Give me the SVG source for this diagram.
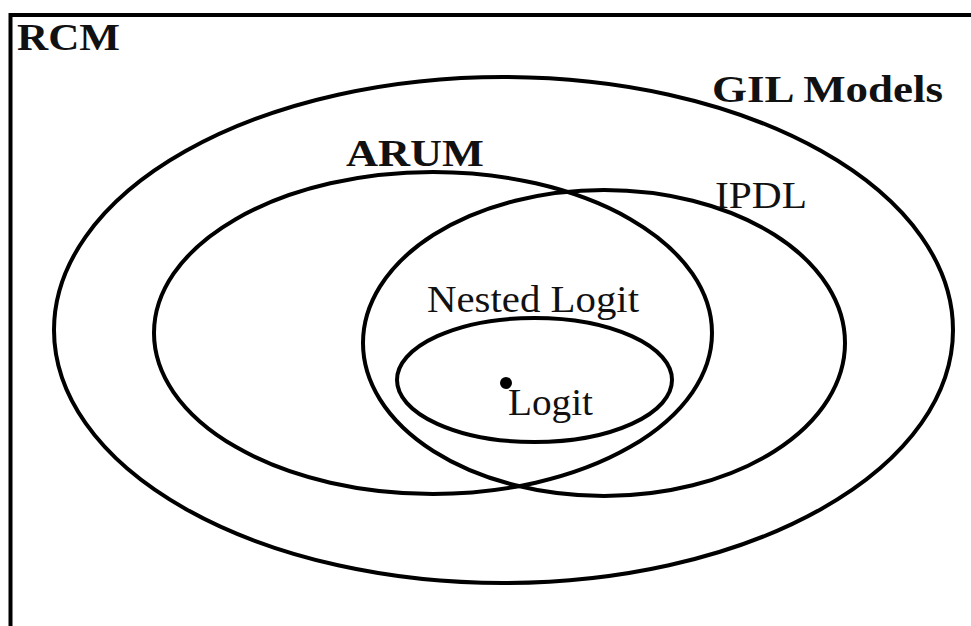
<svg xmlns="http://www.w3.org/2000/svg" width="971" height="626" viewBox="0 0 971 626">
<style>
.set{fill:none;stroke:#000;stroke-width:4}
.lbl{font-family:"Liberation Serif","Times New Roman",serif;font-size:37px;fill:#111}
.b{font-weight:bold}
</style>
<rect width="971" height="626" fill="#fff"/>
<g id="RCM">
<path class="set" d="M10.5,630 V15 H980"/>
<text class="lbl b" x="17" y="50" textLength="103" lengthAdjust="spacingAndGlyphs">RCM</text>
</g>
<g id="GIL">
<ellipse class="set" cx="503.5" cy="330" rx="449.5" ry="253"/>
<text class="lbl b" x="712" y="102" textLength="231" lengthAdjust="spacingAndGlyphs">GIL Models</text>
</g>
<g id="ARUM">
<ellipse class="set" cx="433" cy="333" rx="279" ry="161"/>
<text class="lbl b" x="346" y="166" textLength="138" lengthAdjust="spacingAndGlyphs">ARUM</text>
</g>
<g id="IPDL">
<ellipse class="set" cx="604" cy="343" rx="241" ry="153"/>
<text class="lbl" x="715" y="208" textLength="92" lengthAdjust="spacingAndGlyphs">IPDL</text>
</g>
<g id="NestedLogit">
<ellipse class="set" cx="534.5" cy="380" rx="137.5" ry="62"/>
<text class="lbl" x="427" y="312" textLength="212" lengthAdjust="spacingAndGlyphs">Nested Logit</text>
</g>
<g id="Logit">
<circle cx="506" cy="383" r="6" fill="#000"/>
<text class="lbl" x="508" y="415" textLength="85" lengthAdjust="spacingAndGlyphs">Logit</text>
</g>
<g id="connectors"/>
</svg>
